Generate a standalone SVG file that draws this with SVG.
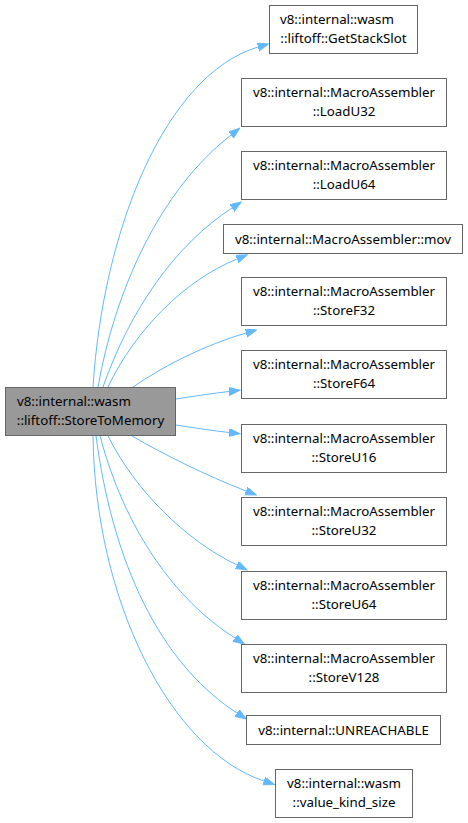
<svg xmlns="http://www.w3.org/2000/svg" width="468" height="823" viewBox="0 0 468 823">
<style>
.n rect{fill:#ffffff;stroke:#666666;stroke-width:1}
.m rect{fill:#999999;stroke:#666666;stroke-width:1}
text{font-family:"Noto Sans","Open Sans","DejaVu Sans",sans-serif;font-size:13.3px;fill:#000000}
.c{text-anchor:middle}
.s{text-anchor:start}
.e path{fill:none;stroke:#63b8ff;stroke-width:1;marker-end:url(#a)}
</style>
<defs>
<marker id="a" markerWidth="12" markerHeight="10" refX="0" refY="4" orient="auto" markerUnits="userSpaceOnUse">
<path d="M0,0 L11,4 L0,8 z" fill="#63b8ff" stroke="#63b8ff" stroke-width="1"/>
</marker>
</defs>
<rect width="468" height="823" fill="#ffffff"/>
<g class="e" id="edges">
<path d="M93,387 C103,230 165,75 258,47"/>
<path d="M98,387 C115,290 160,190 231,135"/>
<path d="M103,387 C130,310 175,245 232,208"/>
<path d="M108,387 C135,330 185,280 237,259"/>
<path d="M133,387 C165,365 205,345 246,333"/>
<path d="M176,399 C195,396 212,393.5 229,391.5"/>
<path d="M176,425 C195,428 212,430.5 229,432.5"/>
<path d="M132,436 C165,455 205,475 246,491"/>
<path d="M108,436 C135,490 185,540 237,565"/>
<path d="M100,436 C125,530 175,600 235,638"/>
<path d="M96,436 C115,580 170,670 237,713"/>
<path d="M93,436 C95,600 170,750 264,781"/>
</g>
<g id="main" class="m">
<rect x="5.5" y="387.5" width="170" height="48"/>
<text class="s" x="17" y="406">v8::internal::wasm</text>
<text class="c" x="90.5" y="424.5">::liftoff::StoreToMemory</text>
</g>
<g id="getstackslot" class="n">
<rect x="269.5" y="5.5" width="148" height="48"/>
<text class="s" x="280" y="24">v8::internal::wasm</text>
<text class="c" x="343.5" y="42.5">::liftoff::GetStackSlot</text>
</g>
<g id="loadu32" class="n">
<rect x="241.5" y="78.5" width="205" height="48"/>
<text class="c" x="344" y="97">v8::internal::MacroAssembler</text>
<text class="c" x="344" y="115.5">::LoadU32</text>
</g>
<g id="loadu64" class="n">
<rect x="241.5" y="151.5" width="205" height="48"/>
<text class="c" x="344" y="170">v8::internal::MacroAssembler</text>
<text class="c" x="344" y="188.5">::LoadU64</text>
</g>
<g id="mov" class="n">
<rect x="223.5" y="224.5" width="239" height="29"/>
<text class="c" x="343" y="243.5">v8::internal::MacroAssembler::mov</text>
</g>
<g id="storef32" class="n">
<rect x="241.5" y="277.5" width="205" height="48"/>
<text class="c" x="344" y="296">v8::internal::MacroAssembler</text>
<text class="c" x="344" y="314.5">::StoreF32</text>
</g>
<g id="storef64" class="n">
<rect x="241.5" y="350.5" width="205" height="48"/>
<text class="c" x="344" y="369">v8::internal::MacroAssembler</text>
<text class="c" x="344" y="387.5">::StoreF64</text>
</g>
<g id="storeu16" class="n">
<rect x="241.5" y="424.5" width="205" height="48"/>
<text class="c" x="344" y="443">v8::internal::MacroAssembler</text>
<text class="c" x="344" y="461.5">::StoreU16</text>
</g>
<g id="storeu32" class="n">
<rect x="241.5" y="497.5" width="205" height="48"/>
<text class="c" x="344" y="516">v8::internal::MacroAssembler</text>
<text class="c" x="344" y="534.5">::StoreU32</text>
</g>
<g id="storeu64" class="n">
<rect x="241.5" y="571.5" width="205" height="48"/>
<text class="c" x="344" y="590">v8::internal::MacroAssembler</text>
<text class="c" x="344" y="608.5">::StoreU64</text>
</g>
<g id="storev128" class="n">
<rect x="241.5" y="644.5" width="205" height="48"/>
<text class="c" x="344" y="663">v8::internal::MacroAssembler</text>
<text class="c" x="344" y="681.5">::StoreV128</text>
</g>
<g id="unreachable" class="n">
<rect x="246.5" y="715.5" width="194" height="29"/>
<text class="c" x="343.5" y="734.5">v8::internal::UNREACHABLE</text>
</g>
<g id="valuekindsize" class="n">
<rect x="275.5" y="769.5" width="137" height="48"/>
<text class="c" x="344" y="788">v8::internal::wasm</text>
<text class="c" x="344" y="806.5">::value_kind_size</text>
</g>
</svg>
